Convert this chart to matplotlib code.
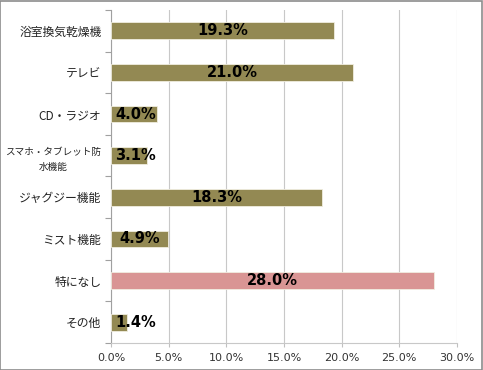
import matplotlib.pyplot as plt
import numpy as np

plt.rcParams['font.family'] = ['Noto Sans CJK JP', 'DejaVu Sans']

categories = ['浴室換気乾燥機', 'テレビ', 'CD・ラジオ', 'スマホ・タブレット防\n水機能',
              'ジャグジー機能', 'ミスト機能', '特になし', 'その他']
values = [19.3, 21.0, 4.0, 3.1, 18.3, 4.9, 28.0, 1.4]
highlight = '特になし'
xticks = [0, 5, 10, 15, 20, 25, 30]

fig = plt.figure(figsize=(4.83, 3.70), dpi=100)
ax = fig.add_axes([0.23, 0.073, 0.716, 0.9])

y = np.arange(len(categories))
colors = ['#D99594' if c == highlight else '#938953' for c in categories]
bars = ax.barh(y, values, height=0.4, color=colors, edgecolor='#f0ede0',
               linewidth=0.6, zorder=3)

for bar, v in zip(bars, values):
    cx = max(v / 2, 2.1)
    ax.text(cx, bar.get_y() + bar.get_height() / 2, '%.1f%%' % v,
            ha='center', va='center', fontsize=10.5, fontweight='bold',
            family='DejaVu Sans', color='black', zorder=4)

ax.set_xlim(0, 30)
ax.set_ylim(len(categories) - 0.5, -0.5)
ax.set_xticks(xticks)
ax.set_xticklabels(['%.1f%%' % t for t in xticks], fontsize=8, color='#333333',
                   family='DejaVu Sans')
ax.set_yticks(y)
ax.set_yticklabels(categories, fontsize=8.5, color='#222222')
for lab in ax.get_yticklabels():
    lab.set_multialignment('center')
    if '\n' in lab.get_text():
        lab.set_fontsize(6.9)
        lab.set_linespacing(1.9)
ax.set_yticks(np.arange(len(categories) + 1) - 0.5, minor=True)
ax.tick_params(axis='y', which='major', length=0, pad=7)
ax.tick_params(axis='y', which='minor', length=4, color='#a0a0a0', width=0.8)
ax.tick_params(axis='x', which='major', length=3, color='#c0c0c0', width=0.8, pad=4)

ax.grid(axis='x', color='#c8c8c8', linewidth=0.8, zorder=0)
for s in ['top', 'right']:
    ax.spines[s].set_visible(False)
ax.spines['left'].set_color('#a0a0a0')
ax.spines['bottom'].set_color('#c8c8c8')

fig.patches.append(plt.Rectangle((0.001, 0.001), 0.997, 0.997, transform=fig.transFigure,
                                 fill=False, edgecolor='#8c8c8c', linewidth=1.2))

fig.savefig('out.png', dpi=100)
